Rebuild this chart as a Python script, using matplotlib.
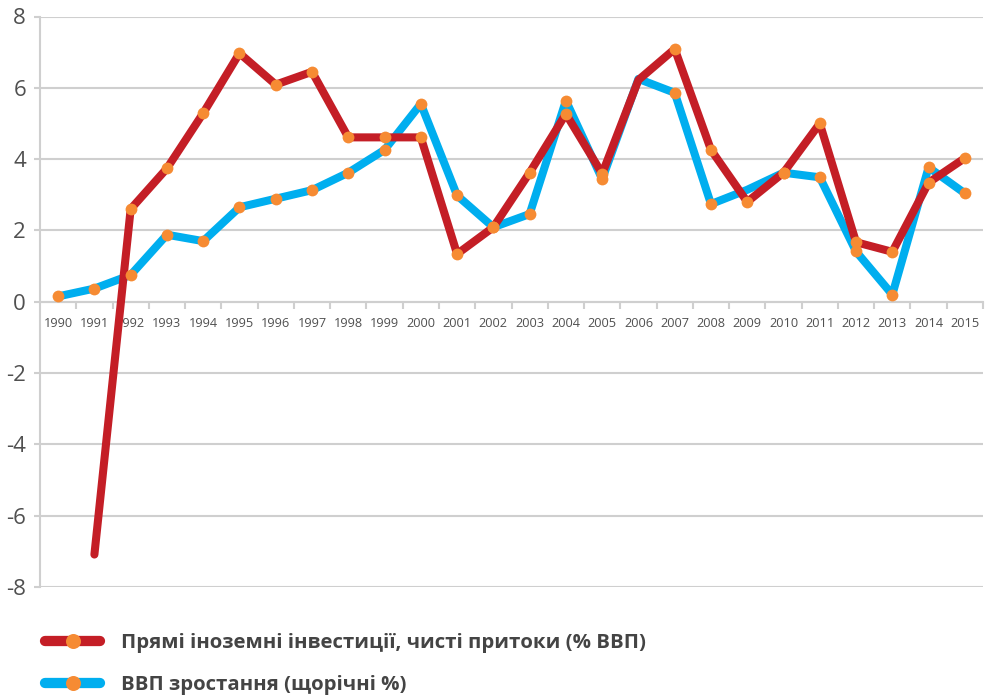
import numpy as np
import matplotlib.pyplot as plt
from matplotlib.lines import Line2D

plt.rcParams['font.family'] = ['Open Sans', 'DejaVu Sans']
plt.rcParams['axes.unicode_minus'] = False

years = [str(y) for y in range(1990, 2016)]
fdi = [np.nan, -7.09, 2.60, 3.74, 5.29, 6.97, 6.09, 6.45, 4.61, 4.61, 4.61, 1.34, 2.09,
       3.62, 5.27, 3.59, 6.22, 7.09, 4.26, 2.80, 3.62, 5.00, 1.67, 1.40, 3.34, 4.03]
gdp = [0.15, 0.37, 0.75, 1.88, 1.70, 2.65, 2.89, 3.13, 3.62, 4.26, 5.55, 2.98, 2.09,
       2.46, 5.64, 3.44, 6.25, 5.86, 2.74, 3.14, 3.62, 3.49, 1.41, 0.20, 3.77, 3.04]
# points drawn without an orange dot in the original
fdi_nodot = ['1991', '2006']
gdp_nodot = ['2006', '2009']

labels = ['Прямі іноземні інвестиції, чисті притоки (% ВВП)', 'ВВП зростання (щорічні %)']

red = '#C41E26'
blue = '#00AEEF'
orange = '#F68B33'
grid = '#CFCFCF'
txt = '#505050'

fig = plt.figure(figsize=(9.87, 6.95), dpi=100)
ax = fig.add_axes([40 / 987, 1 - 587 / 695, 943 / 987, (587 - 16.5) / 695])

x = np.arange(len(years))
ax.plot(x, gdp, color=blue, lw=5.8, solid_joinstyle='round', solid_capstyle='round', zorder=3)
ax.plot(x, fdi, color=red, lw=5.8, solid_joinstyle='round', solid_capstyle='round', zorder=4)

gdp_dots = [i for i, y in enumerate(years) if y not in gdp_nodot]
fdi_dots = [i for i, y in enumerate(years) if y not in fdi_nodot and not np.isnan(fdi[i])]
ax.plot(x[gdp_dots], np.array(gdp)[gdp_dots], ls='none', marker='o', ms=8.5,
        mfc=orange, mec='none', zorder=5)
ax.plot(x[fdi_dots], np.array(fdi)[fdi_dots], ls='none', marker='o', ms=8.5,
        mfc=orange, mec='none', zorder=5)

ax.set_xlim(-0.5, len(years) - 0.5)
ax.set_ylim(-8, 8)
ax.set_yticks(range(-8, 9, 2))
ax.yaxis.grid(True, color=grid, lw=1.5)
ax.set_axisbelow(True)

for s in ['top', 'right']:
    ax.spines[s].set_visible(False)
ax.spines['left'].set_color(grid)
ax.spines['left'].set_linewidth(1.5)
ax.spines['bottom'].set_position(('data', 0))
ax.spines['bottom'].set_color(grid)
ax.spines['bottom'].set_linewidth(1.5)

# ticks between categories, labels at centres
ax.set_xticks(np.arange(len(years)) + 0.5)
ax.set_xticklabels([])
ax.set_xticks(x, minor=True)
ax.set_xticklabels(years, minor=True, fontsize=9.2, color=txt)
ax.tick_params(axis='x', which='major', length=5, width=1.5, color=grid, direction='out')
ax.tick_params(axis='x', which='minor', length=0, pad=11)
ax.tick_params(axis='y', length=4, width=1.5, color=grid, labelsize=16, labelcolor=txt, pad=6)

handles = [Line2D([0], [0], color=red, lw=7.4, solid_capstyle='round', marker='o', ms=10.8,
                  mfc=orange, mec='none'),
           Line2D([0], [0], color=blue, lw=7.4, solid_capstyle='round', marker='o', ms=10.8,
                  mfc=orange, mec='none')]
leg = fig.legend(handles, labels, loc='upper left', bbox_to_anchor=(45 / 987, 1 - 633 / 695),
                 frameon=False, borderpad=0, borderaxespad=0, handlelength=2.7,
                 handletextpad=1.0, labelspacing=1.1, numpoints=1,
                 prop={'size': 14.7, 'weight': 'bold'})
for t in leg.get_texts():
    t.set_color('#444444')

fig.savefig('out.png', dpi=100)
